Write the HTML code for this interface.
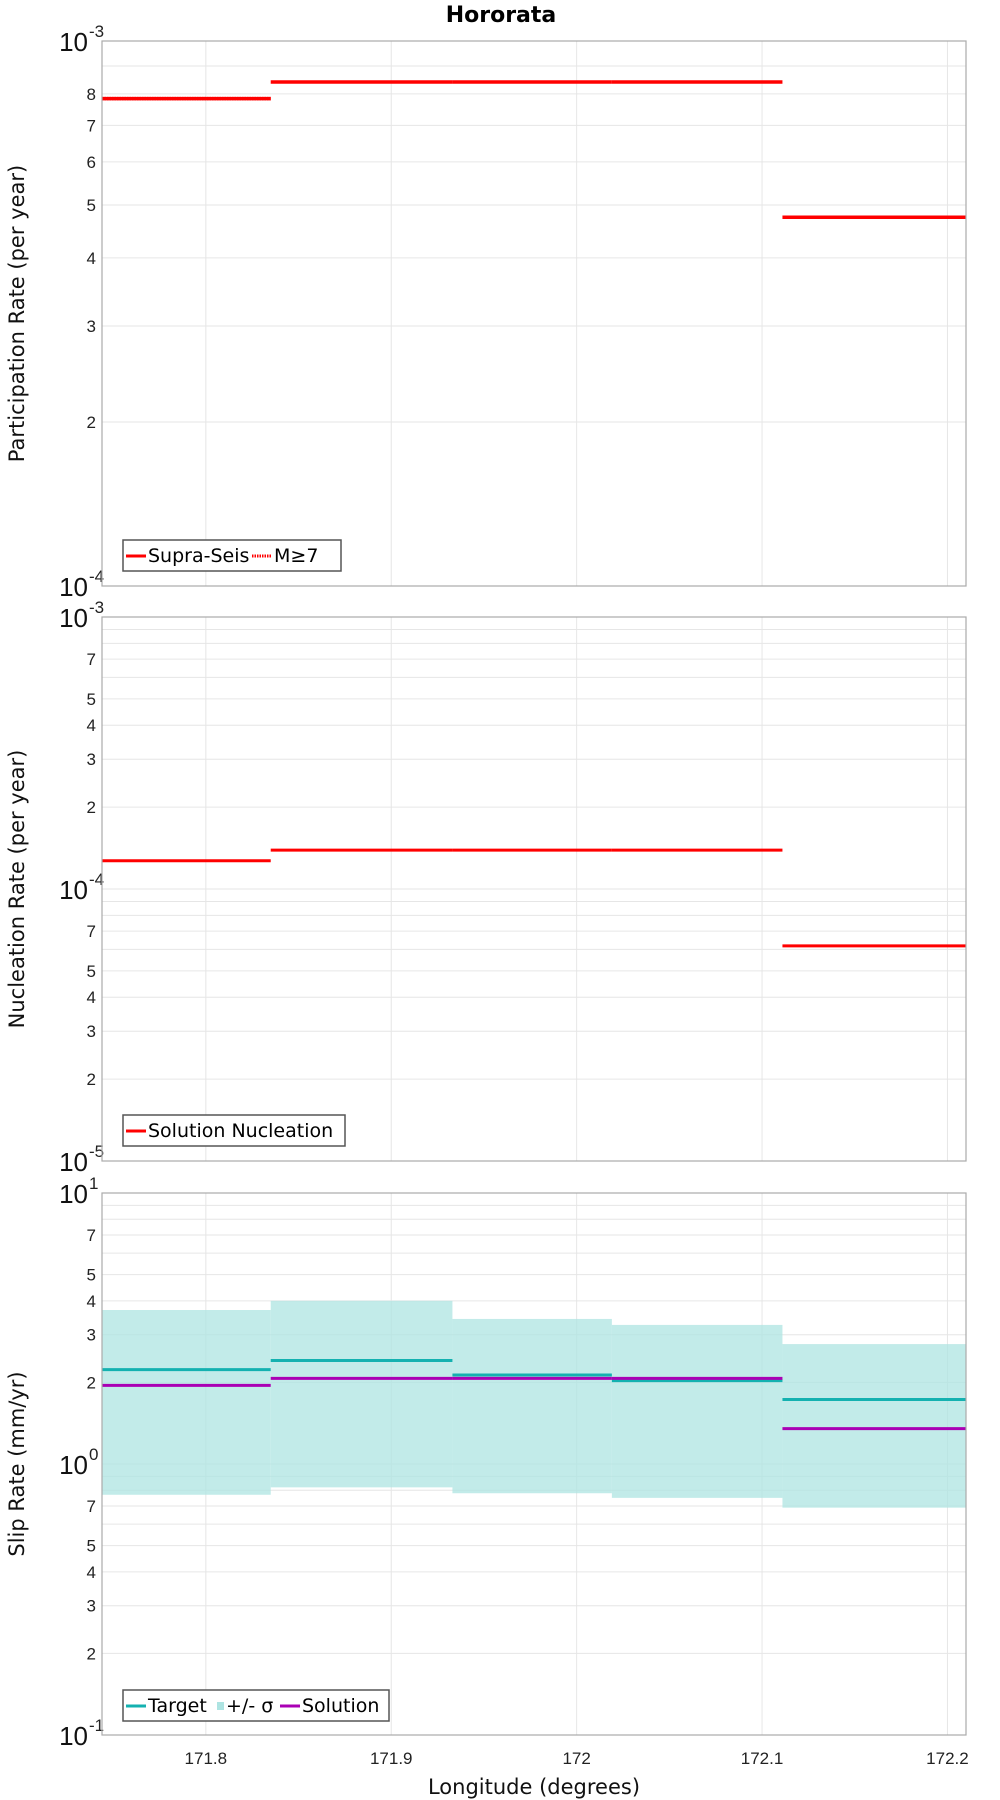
<!DOCTYPE html>
<html><head><meta charset="utf-8"><style>
html,body{margin:0;padding:0;background:#fff;}
svg{display:block;font-family:"DejaVu Sans","Liberation Sans",sans-serif;}
.tick{font-family:"Liberation Sans",sans-serif;font-size:17px;fill:#222;}
.dec{font-family:"Liberation Sans",sans-serif;font-size:26px;fill:#111;}
</style></head><body>
<svg id="chart" width="1000" height="1800" viewBox="0 0 1000 1800" xmlns="http://www.w3.org/2000/svg">
<text x="501" y="22" text-anchor="middle" font-weight="bold" font-size="22" font-family="DejaVu Sans, sans-serif">Hororata</text>
<g id="layer"></g>
</svg>
<script>
// x categories: segment boundaries (longitude)
const segEdges = [171.744, 171.835, 171.933, 172.019, 172.111, 172.21];
const xTicks = [171.8, 171.9, 172, 172.1, 172.2];
const xTickLabels = ["171.8", "171.9", "172", "172.1", "172.2"];
// panel 1: participation
const suprSeis = [7.84e-4, 8.41e-4, 8.41e-4, 8.41e-4, 4.75e-4];
const m7 = [7.84e-4, null, null, null, null];
// panel 2: nucleation
const nucleation = [1.27e-4, 1.39e-4, 1.39e-4, 1.39e-4, 6.18e-5];
// panel 3: slip rate
const target = [2.23, 2.41, 2.13, 2.03, 1.73];
const sigmaHi = [3.7, 4.0, 3.43, 3.26, 2.77];
const sigmaLo = [0.77, 0.82, 0.78, 0.75, 0.69];
const solution = [1.95, 2.07, 2.07, 2.07, 1.35];

const NS = "http://www.w3.org/2000/svg";
const layer = document.getElementById("layer");
const L = 102, R = 966;
const X = v => L + (v - segEdges[0]) / (segEdges[segEdges.length-1] - segEdges[0]) * (R - L);
function mk(tag, attrs, parent){const e=document.createElementNS(NS,tag);for(const k in attrs)e.setAttribute(k,attrs[k]);(parent||layer).appendChild(e);return e;}

const panels = [
 {top:41,bottom:586,dmin:-4,dmax:-3,labels:[2,3,4,5,6,7,8],title:"Participation Rate (per year)",name:"participation"},
 {top:617,bottom:1161,dmin:-5,dmax:-3,labels:[2,3,4,5,7],title:"Nucleation Rate (per year)",name:"nucleation"},
 {top:1193,bottom:1735,dmin:-1,dmax:1,labels:[2,3,4,5,7],title:"Slip Rate (mm/yr)",name:"slip-rate"}
];
panels.forEach(p=>{
  p.Y = v => p.bottom - (Math.log10(v) - p.dmin)/(p.dmax-p.dmin)*(p.bottom-p.top);
  const g = mk("g",{});
  
  
  p.g = g;
  for(let d=p.dmin; d<p.dmax; d++){
    for(let m=2;m<=9;m++){
      const y=p.Y(m*Math.pow(10,d));
      const gl=mk("line",{x1:L,x2:R,y1:y,y2:y,stroke:"#e6e6e6","stroke-width":1},g);
      
      
      if(p.labels.includes(m)){
        const t=mk("text",{x:96,y:y+6,"text-anchor":"end",class:"tick"},g);
        
        
        t.textContent=m;
      }
    }
  }
  for(let d=p.dmin; d<=p.dmax; d++){
    const y=p.Y(Math.pow(10,d));
    if(d>p.dmin && d<p.dmax){const gl=mk("line",{x1:L,x2:R,y1:y,y2:y,stroke:"#e6e6e6"},g);
      
      }
    const t=mk("text",{x:88,y:y+10,"text-anchor":"end",class:"dec"},g);
    
    
    t.textContent="10";
    const s=mk("text",{x:89,y:y-4,class:"tick","font-size":"15"},g);
    
    
    s.textContent=String(d);
  }
  xTicks.forEach(v=>{
    const gl=mk("line",{x1:X(v),x2:X(v),y1:p.top,y2:p.bottom,stroke:"#e6e6e6"},g);
    
    
  });
  const cx=24, cy=(p.top+p.bottom)/2;
  const yt=mk("text",{x:cx,y:cy,transform:`rotate(-90 ${cx} ${cy})`,"text-anchor":"middle","font-size":"21",fill:"#111"},g);
  
  
  yt.textContent=p.title;
});

function steps(p, vals, color, w, dash, name){
  vals.forEach((v,i)=>{
    if(v==null) return;
    const y=p.Y(v);
    const a={x1:X(segEdges[i]),x2:X(segEdges[i+1]),y1:y,y2:y,stroke:color,"stroke-width":w};
    if(dash) a["stroke-dasharray"]=dash;
    const l=mk("line",a,p.g);
    
    
  });
}
const P1=panels[0],P2=panels[1],P3=panels[2];
// band
sigmaHi.forEach((hi,i)=>{
  const y1=P3.Y(hi), y2=P3.Y(sigmaLo[i]);
  const r=mk("rect",{x:X(segEdges[i]),y:y1,width:X(segEdges[i+1])-X(segEdges[i]),height:y2-y1,fill:"#aee4e2","fill-opacity":"0.75"},P3.g);
  
  
});
steps(P1,suprSeis,"#ff0000",3.5,null,"supra-seis-line");
steps(P1,m7,"#ff0000",3.5,"1.5,1","m7-line");
steps(P2,nucleation,"#ff0000",3,null,"nucleation-line");
steps(P3,target,"#14b1b0",3,null,"target-line");
steps(P3,solution,"#aa00b4",3,null,"solution-line");

panels.forEach(p=>{
  const b=mk("rect",{x:L,y:p.top,width:R-L,height:p.bottom-p.top,fill:"none",stroke:"#aaa","stroke-width":1.2},p.g);
  
  
});
xTicks.forEach((v,i)=>{
  const t=mk("text",{x:X(v),y:1764,"text-anchor":"middle",class:"tick","font-size":"19"});
  
  
  t.textContent=xTickLabels[i];
});
const xt=mk("text",{x:534,y:1794,"text-anchor":"middle","font-size":"21",fill:"#111"});


xt.textContent="Longitude (degrees)";

function legend(x,y,w,items,name){
  const g=mk("g",{});
  
  
  mk("rect",{x:x,y:y,width:w,height:31,fill:"#fff",stroke:"#555","stroke-width":1.5},g);
  let cx=x+3;
  items.forEach(it=>{
    if(it.type==="box"){mk("rect",{x:cx+1,y:y+12,width:7,height:8,fill:"#aee4e2"},g);cx+=10;}
    else{const a={x1:cx,x2:cx+20,y1:y+16,y2:y+16,stroke:it.color,"stroke-width":3};if(it.dash)a["stroke-dasharray"]=it.dash;mk("line",a,g);cx+=22;}
    const t=mk("text",{x:cx,y:y+22,"font-size":"19",fill:"#000"},g);
    
    
    t.textContent=it.label;
    cx+=it.w;
  });
}
legend(123,540,218,[{color:"#ff0000",label:"Supra-Seis",w:104},{color:"#ff0000",dash:"1.5,1",label:"M≥7",w:50}],"participation-legend");
legend(123,1115,222,[{color:"#ff0000",label:"Solution Nucleation",w:190}],"nucleation-legend");
legend(123,1690,266,[{color:"#14b1b0",label:"Target",w:68},{type:"box",label:"+/- σ",w:54},{color:"#aa00b4",label:"Solution",w:90}],"slip-legend");
</script>
</body></html>
